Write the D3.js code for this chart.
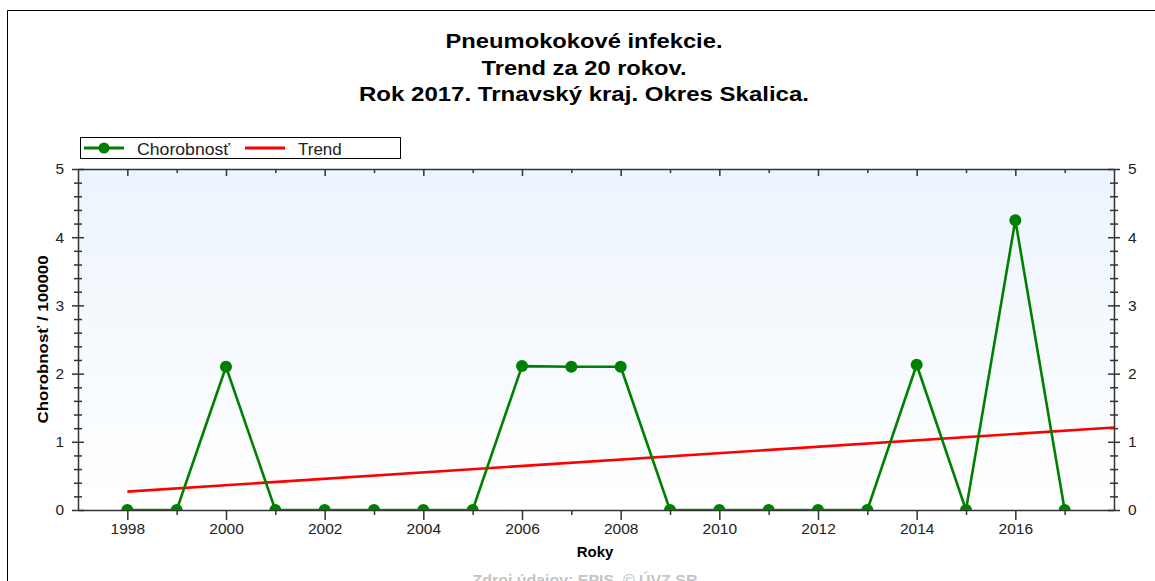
<!DOCTYPE html>
<html>
<head>
<meta charset="utf-8">
<script src="https://cdn.jsdelivr.net/npm/d3@7"></script>
<style>
  html, body { margin: 0; padding: 0; background: #fff; }
  svg { display: block; font-family: Arial, "Liberation Sans", sans-serif; }
</style>
</head>
<body>
<svg id="chart" width="1155" height="581"></svg>
<script>
// Incidence per 100 000 inhabitants, by year
const years = [1998, 1999, 2000, 2001, 2002, 2003, 2004, 2005, 2006, 2007,
               2008, 2009, 2010, 2011, 2012, 2013, 2014, 2015, 2016, 2017];
const incidence = [0, 0, 2.1, 0, 0, 0, 0, 0, 2.11, 2.1,
                   2.1, 0, 0, 0, 0, 0, 2.13, 0, 4.25, 0];
// Linear trend, endpoints
const trendYears = [1998, 2018];
const trendValues = [0.27, 1.21];
const yTicks = [0, 1, 2, 3, 4, 5];
const titleLines = ["Pneumokokové infekcie.", "Trend za 20 rokov.", "Rok 2017. Trnavský kraj. Okres Skalica."];
const titleWidths = [277, 205, 450];
const legendLabels = ["Chorobnosť", "Trend"];

const svg = d3.select("#chart");
const m = { left: 78, right: 1114, top: 169, bottom: 510 };

const x = d3.scaleLinear().domain([1997, 2018]).range([m.left, m.right]);
const y = d3.scaleLinear().domain([0, 5]).range([m.bottom, m.top]);

// Outer frame (left and top edges)
svg.append("path")
  .attr("d", "M7.5,581 V10.5 H1155")
  .attr("fill", "none").attr("stroke", "#000").attr("stroke-width", 1);

// Title
titleLines.forEach((t, i) => {
  svg.append("text")
    .attr("x", 584).attr("y", 48 + i * 26.5)
    .attr("text-anchor", "middle")
    .attr("font-size", 21).attr("font-weight", "bold")
    .attr("textLength", titleWidths[i]).attr("lengthAdjust", "spacingAndGlyphs")
    .attr("fill", "#000").text(t);
});

// Plot background gradient
const defs = svg.append("defs");
const grad = defs.append("linearGradient").attr("id", "bg")
  .attr("x1", 0).attr("y1", 0).attr("x2", 0).attr("y2", 1);
grad.append("stop").attr("offset", "0%").attr("stop-color", "#ecf4fd");
grad.append("stop").attr("offset", "100%").attr("stop-color", "#ffffff");
defs.append("clipPath").attr("id", "plotClip").append("rect")
  .attr("x", m.left).attr("y", m.top)
  .attr("width", m.right - m.left).attr("height", m.bottom - m.top);

svg.append("rect")
  .attr("x", m.left).attr("y", m.top)
  .attr("width", m.right - m.left).attr("height", m.bottom - m.top)
  .attr("fill", "url(#bg)");

// Axes
const axisColor = "#333";
const tickFont = 15.5;

function styleAxis(g) {
  g.select(".domain").attr("stroke", axisColor).attr("stroke-width", 1.5);
  g.selectAll(".tick line").attr("stroke", axisColor).attr("stroke-width", 1.5);
  g.selectAll(".tick text").attr("fill", "#222").attr("font-size", tickFont)
    .attr("font-family", "Arial, 'Liberation Sans', sans-serif");
}

const minorY = d3.range(0, 5.001, 0.2).filter(v => Math.abs(v - Math.round(v)) > 1e-6);
const allYears = d3.range(1998, 2018);
const fmt = d3.format("d");

// Bottom axis: minor ticks every year, major every two years
svg.append("g").attr("transform", `translate(0,${m.bottom})`)
  .call(d3.axisBottom(x).tickValues(allYears.filter(v => v % 2 === 1)).tickSize(6).tickFormat(""))
  .call(styleAxis).call(g => g.select(".domain").remove())
  .call(g => g.selectAll(".tick line").attr("y1", 0).attr("y2", 5));
svg.append("g").attr("transform", `translate(0,${m.bottom})`)
  .call(d3.axisBottom(x).tickValues(allYears.filter(v => v % 2 === 0)).tickSize(10).tickSizeOuter(0).tickFormat(fmt).tickPadding(3))
  .call(styleAxis);

// Top axis
svg.append("g").attr("transform", `translate(0,${m.top})`)
  .call(d3.axisTop(x).tickValues(allYears.filter(v => v % 2 === 1)).tickSize(-4).tickFormat(""))
  .call(styleAxis).call(g => g.select(".domain").remove());
svg.append("g").attr("transform", `translate(0,${m.top})`)
  .call(d3.axisTop(x).tickValues(allYears.filter(v => v % 2 === 0)).tickSize(-7).tickSizeOuter(0).tickFormat(""))
  .call(styleAxis);

// Left axis
svg.append("g").attr("transform", `translate(${m.left},0)`)
  .call(d3.axisLeft(y).tickValues(minorY).tickSize(5).tickFormat(""))
  .call(styleAxis).call(g => g.select(".domain").remove())
  .call(g => g.selectAll(".tick line").attr("x1", 4).attr("x2", -4));
svg.append("g").attr("transform", `translate(${m.left},0)`)
  .call(d3.axisLeft(y).tickValues(yTicks).tickSize(6).tickSizeOuter(0).tickPadding(8).tickFormat(fmt))
  .call(styleAxis)
  .call(g => g.selectAll(".tick line").attr("x1", 6).attr("x2", -6));

// Right axis
svg.append("g").attr("transform", `translate(${m.right},0)`)
  .call(d3.axisRight(y).tickValues(minorY).tickSize(5).tickFormat(""))
  .call(styleAxis).call(g => g.select(".domain").remove())
  .call(g => g.selectAll(".tick line").attr("x1", -4).attr("x2", 4));
svg.append("g").attr("transform", `translate(${m.right},0)`)
  .call(d3.axisRight(y).tickValues(yTicks).tickSize(6).tickSizeOuter(0).tickPadding(8).tickFormat(fmt))
  .call(styleAxis)
  .call(g => g.selectAll(".tick line").attr("x1", -6).attr("x2", 6));

// Axis titles
svg.append("text")
  .attr("transform", `translate(48,${(m.top + m.bottom) / 2}) rotate(-90)`)
  .attr("text-anchor", "middle").attr("font-size", 14).attr("font-weight", "bold")
  .attr("textLength", 168).attr("lengthAdjust", "spacingAndGlyphs")
  .attr("fill", "#000").text("Chorobnosť / 100000");
svg.append("text")
  .attr("x", 595).attr("y", 557)
  .attr("text-anchor", "middle").attr("font-size", 15).attr("font-weight", "bold")
  .attr("fill", "#000").text("Roky");
svg.append("text")
  .attr("x", 585).attr("y", 585)
  .attr("text-anchor", "middle").attr("font-size", 15.5).attr("font-weight", "bold")
  .attr("textLength", 225).attr("lengthAdjust", "spacingAndGlyphs")
  .attr("fill", "#c4c4c4").text("Zdroj údajov: EPIS, © ÚVZ SR");

// Data layer clipped to the plot area
const plot = svg.append("g").attr("clip-path", "url(#plotClip)");

const green = "#008000";
const red = "#ff0000";

plot.append("path")
  .datum(trendYears.map((yr, i) => [yr, trendValues[i]]))
  .attr("d", d3.line().x(d => x(d[0])).y(d => y(d[1])))
  .attr("fill", "none").attr("stroke", red).attr("stroke-width", 2.6);

const pts = years.map((yr, i) => [yr, incidence[i]]);
plot.append("path")
  .datum(pts)
  .attr("d", d3.line().x(d => x(d[0])).y(d => y(d[1])))
  .attr("fill", "none").attr("stroke", green).attr("stroke-width", 2.6)
  .attr("stroke-linejoin", "round");

plot.selectAll("circle.pt").data(pts).enter().append("circle")
  .attr("class", "pt")
  .attr("cx", d => x(d[0])).attr("cy", d => y(d[1]))
  .attr("r", 6).attr("fill", green);

// Legend
const lg = svg.append("g");
lg.append("rect").attr("x", 80.5).attr("y", 137.5).attr("width", 320).attr("height", 21)
  .attr("fill", "#fff").attr("stroke", "#000").attr("stroke-width", 1);
lg.append("line").attr("x1", 84).attr("x2", 124).attr("y1", 148).attr("y2", 148)
  .attr("stroke", green).attr("stroke-width", 3);
lg.append("circle").attr("cx", 104).attr("cy", 148).attr("r", 5.5).attr("fill", green);
lg.append("text").attr("x", 137).attr("y", 154.5).attr("font-size", 17)
  .attr("textLength", 93).attr("lengthAdjust", "spacingAndGlyphs")
  .attr("fill", "#222").text(legendLabels[0]);
lg.append("line").attr("x1", 245).attr("x2", 285).attr("y1", 148).attr("y2", 148)
  .attr("stroke", red).attr("stroke-width", 3);
lg.append("text").attr("x", 298).attr("y", 154.5).attr("font-size", 17)
  .attr("fill", "#222").text(legendLabels[1]);
</script>
</body>
</html>
